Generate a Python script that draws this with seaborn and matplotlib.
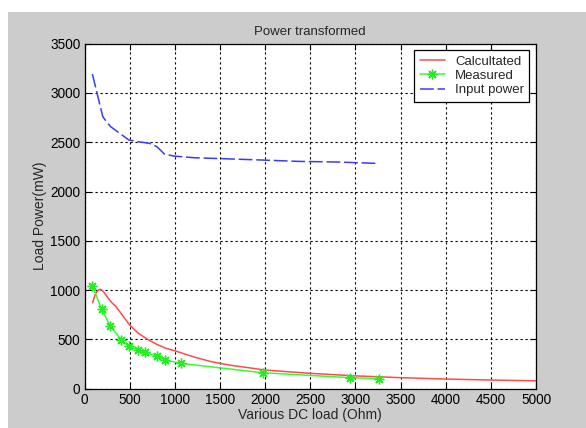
import matplotlib
matplotlib.use("Agg")
import matplotlib.pyplot as plt
import seaborn as sns
import pandas as pd
from matplotlib.patches import Rectangle

# Data
calc_x = [90, 120, 150, 175, 200, 230, 265, 300, 350, 400, 500, 600, 700, 800, 900, 1000,
          1200, 1400, 1600, 1800, 2000, 2500, 3000, 3500, 4000, 4500, 5000]
calc_y = [872, 960, 1000, 1008, 995, 960, 916, 875, 832, 770, 646, 560, 500, 450, 410, 385,
          325, 275, 240, 215, 189, 156, 130, 112, 98, 88, 80]

meas_x = [87, 190, 285, 409, 492, 596, 670, 802, 897, 1067, 1973, 2940, 3263]
meas_y = [1045, 805, 636, 494, 433, 392, 369, 331, 291, 257, 162, 112, 101]

input_x = [87, 203, 252, 290, 442, 492, 600, 720, 802, 885, 988, 1216, 1547, 1960, 2374, 2787, 3230]
input_y = [3192, 2759, 2698, 2658, 2556, 2523, 2505, 2489, 2455, 2381, 2360, 2343, 2333, 2320,
           2306, 2300, 2286]

xticks = [0, 500, 1000, 1500, 2000, 2500, 3000, 3500, 4000, 4500, 5000]
yticks = [0, 500, 1000, 1500, 2000, 2500, 3000, 3500]

sns.set_style("white")
plt.rcParams['font.family'] = ['Liberation Sans', 'DejaVu Sans']

fig = plt.figure(figsize=(5.86, 4.28), dpi=100, facecolor='white')
fig.patches.append(Rectangle((8 / 586, 0), 1 - 8 / 586, 1 - 12 / 428,
                             transform=fig.transFigure, facecolor='#cccccc',
                             edgecolor='none', zorder=-10))
ax = fig.add_axes([84.5 / 586, (428 - 388.7) / 428, (536 - 84.5) / 586, (388.7 - 43.7) / 428])
ax.set_facecolor('white')

df_c = pd.DataFrame({'x': calc_x, 'y': calc_y})
df_m = pd.DataFrame({'x': meas_x, 'y': meas_y})
df_i = pd.DataFrame({'x': input_x, 'y': input_y})

sns.lineplot(data=df_c, x='x', y='y', ax=ax, color='#ff4a4a', linewidth=1.1,
             sort=False, label='Calcultated')
sns.lineplot(data=df_m, x='x', y='y', ax=ax, color='#33ff33', linewidth=1.1,
             marker=(8, 2, 0), markersize=7, markeredgewidth=1.0, markeredgecolor='#22ee22',
             sort=False, label='Measured')
sns.lineplot(data=df_i, x='x', y='y', ax=ax, color='#3a3aff', linewidth=1.1,
             sort=False, label='Input power')
ax.lines[-1].set_dashes((9, 2.5))

ax.set_xlim(0, 5000)
ax.set_ylim(0, 3500)
ax.set_xticks(xticks)
ax.set_yticks(yticks)
ax.tick_params(direction='in', length=4, width=0.8, colors='black', labelsize=9.8,
               top=True, right=True, bottom=True, left=True, pad=3)
ax.grid(True, color='black', linestyle=(0, (2, 2.5)), linewidth=0.8)
for s in ax.spines.values():
    s.set_color('black')
    s.set_linewidth(0.9)
    s.set_visible(True)

ax.set_title('Power transformed', fontsize=9.5, pad=6)
ax.set_xlabel('Various DC load (Ohm)', fontsize=10, labelpad=1)
ax.set_ylabel('Load Power(mW)', fontsize=10, labelpad=2)

leg = ax.legend(loc='upper right', fontsize=9.5, frameon=True, fancybox=False,
                edgecolor='black', framealpha=1, borderaxespad=0.5,
                handlelength=1.9, handletextpad=0.8, labelspacing=0.15, borderpad=0.4)
leg.get_frame().set_linewidth(0.9)
leg.get_lines()[2].set_dashes((9, 2.5))

fig.savefig('out.png', dpi=100, facecolor=fig.get_facecolor())
